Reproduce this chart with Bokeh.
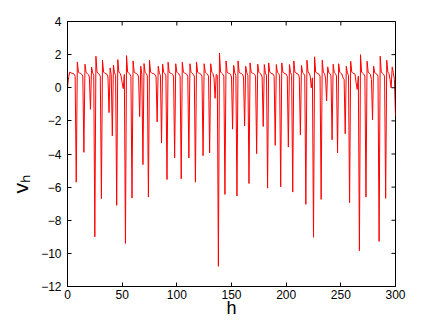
from bokeh.plotting import figure
from bokeh.models import Title, FixedTicker, Range1d
from bokeh.embed import file_html
from bokeh.resources import INLINE
import math

# ---- data ----
h_values = list(range(301))
v_values = [
    0.0, 0.6, 0.95, 0.9, 0.88, 0.86, 0.82, 0.7, -5.7, 1.56,        # 0-9
    0.95, 0.88, 0.86, 0.82, 0.7, -3.9, 1.42, 0.92, 0.87, 0.8,      # 10-19
    0.65, -1.3, 1.25, 0.9, 0.75, -9.0, 1.9, 0.95, 0.87, 0.82,      # 20-29
    0.7, -6.7, 1.66, 0.95, 0.88, 0.86, 0.82, 0.65, -1.5, 1.2,      # 30-39
    0.8, -2.9, 1.36, 0.9, 0.75, -7.1, 1.7, 0.95, 0.88, 0.7,        # 40-49
    0.3, -0.05, 0.8, -9.4, 1.94, 0.95, 0.88, 0.82, 0.7, -6.66,     # 50-59
    1.62, 0.95, 0.88, 0.86, 0.82, 0.65, -1.74, 1.3, 0.8, -4.64,    # 60-69
    1.46, 0.92, 0.86, 0.72, -6.6, 1.66, 0.95, 0.88, 0.86, 0.85,    # 70-79
    0.8, 0.65, -2.06, 1.3, 0.9, 0.75, -3.34, 1.42, 0.92, 0.86,     # 80-89
    0.72, -5.54, 1.54, 0.95, 0.88, 0.86, 0.82, 0.7, -4.24, 1.45,   # 90-99
    0.94, 0.87, 0.82, 0.7, -5.5, 1.54, 0.95, 0.88, 0.86, 0.82,     # 100-109
    0.7, -4.24, 1.45, 0.94, 0.87, 0.82, 0.7, -5.7, 1.56, 0.95,     # 110-119
    0.88, 0.86, 0.82, 0.7, -4.1, 1.45, 0.94, 0.87, 0.82, 0.7,      # 120-129
    -3.94, 1.45, 0.94, 0.86, 0.6, -0.64, 0.8, 0.75, -10.78, 2.1,   # 130-139
    0.95, 0.88, 0.82, 0.7, -6.44, 1.62, 0.95, 0.88, 0.86, 0.82,    # 140-149
    0.65, -2.5, 1.35, 0.9, 0.75, -6.54, 1.62, 0.95, 0.88, 0.86,    # 150-159
    0.82, 0.65, -2.3, 1.3, 0.9, 0.75, -5.78, 1.5, 0.95, 0.88,      # 160-169
    0.86, 0.82, 0.7, -3.98, 1.42, 0.94, 0.87, 0.82, 0.65, -2.34,   # 170-179
    1.4, 0.9, 0.75, -6.06, 1.5, 0.95, 0.88, 0.86, 0.82, 0.7,       # 180-189
    -3.48, 1.4, 0.94, 0.86, 0.72, -5.98, 1.5, 0.95, 0.88, 0.86,    # 190-199
    0.82, 0.7, -3.58, 1.4, 0.92, 0.75, -6.3, 1.62, 0.95, 0.88,     # 200-209
    0.86, 0.82, 0.65, -2.84, 1.35, 0.92, 0.86, 0.72, -7.04, 1.66,  # 210-219
    0.95, 0.88, 0.7, 0.0, 0.6, -9.03, 1.87, 0.95, 0.88, 0.86,      # 220-229
    0.82, 0.7, -6.74, 1.66, 0.95, 0.86, 0.6, -0.8, 1.26, 0.9,      # 230-239
    0.86, 0.72, -3.14, 1.42, 0.92, 0.86, 0.72, -3.94, 1.45, 0.94,  # 240-249
    0.87, 0.82, 0.6, 0.5, -2.78, 1.3, 0.9, 0.75, -6.94, 1.6,       # 250-259
    0.95, 0.88, 0.86, 0.82, 0.3, -0.1, 0.7, -9.84, 2.0, 0.95,      # 260-269
    0.88, 0.82, 0.7, -6.6, 1.6, 0.95, 0.88, 0.8, 0.5, -1.94,       # 270-279
    1.3, 0.9, 0.86, 0.82, 0.7, -9.28, 1.9, 0.95, 0.88, 0.82,       # 280-289
    0.7, -6.68, 1.66, 0.95, 0.86, 0.5, 0.0, 1.26, 0.92, 0.5,       # 290-299
    -1.7,                                                          # 300
]
x_ticks = [0, 50, 100, 150, 200, 250, 300]
y_ticks = [-12, -10, -8, -6, -4, -2, 0, 2, 4]
x_min, x_max = 0, 300
y_min, y_max = -12, 4
x_label = "h"
y_label = "v\u2095"

FONT = "Liberation Sans"

p = figure(width=428, height=320,
           x_range=Range1d(x_min, x_max), y_range=Range1d(y_min, y_max),
           output_backend="svg", toolbar_location=None,
           min_border_left=67, min_border_right=33,
           min_border_top=21, min_border_bottom=32,
           background_fill_color="white", border_fill_color="white")

p.line(h_values, v_values, line_color="#ff0000", line_width=1)

p.xgrid.visible = False
p.ygrid.visible = False
p.outline_line_color = "black"
p.outline_line_width = 1

for ax, ticks in ((p.xaxis[0], x_ticks), (p.yaxis[0], y_ticks)):
    ax.ticker = FixedTicker(ticks=ticks)
    ax.major_tick_in = 4
    ax.major_tick_out = 0
    ax.minor_tick_in = 0
    ax.minor_tick_out = 0
    ax.axis_line_color = "black"
    ax.major_tick_line_color = "black"
    ax.major_label_text_font = FONT
    ax.major_label_text_color = "black"
    ax.major_label_text_font_size = "12px"

p.xaxis[0].major_label_standoff = 3
p.yaxis[0].major_label_standoff = 6
p.xaxis[0].axis_label = x_label
p.xaxis[0].axis_label_text_font = FONT
p.xaxis[0].axis_label_text_font_size = "18px"
p.xaxis[0].axis_label_text_font_style = "normal"
p.xaxis[0].axis_label_text_color = "black"
p.xaxis[0].axis_label_standoff = -4

# tick marks on the top and right edges of the box (clipped to the frame)
p.scatter(x_ticks, [y_max] * len(x_ticks), marker="dash", angle=math.pi / 2,
          size=8, line_color="black", line_width=1)
p.scatter([x_max] * len(y_ticks), y_ticks, marker="dash",
          size=8, line_color="black", line_width=1)

ylab = Title(text=y_label, align="left", offset=93, standoff=13,
             text_font=FONT, text_font_size="21px", text_font_style="normal",
             text_color="black")
p.add_layout(ylab, "left")

open("out.html", "w").write(file_html(p, INLINE))
